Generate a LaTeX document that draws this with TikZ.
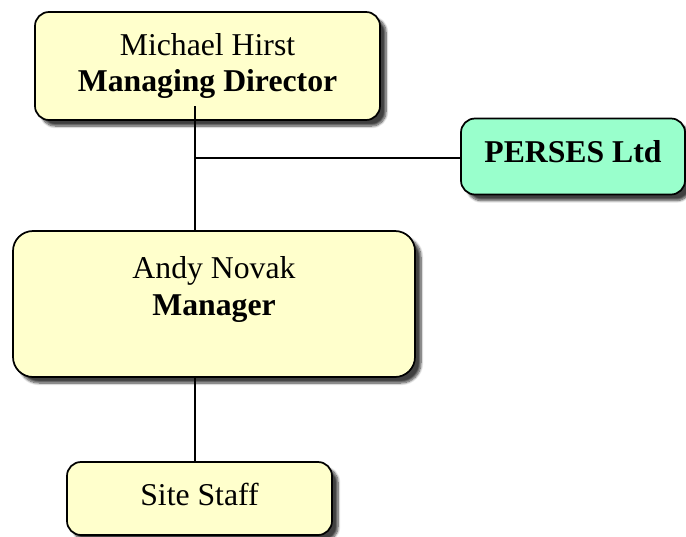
\documentclass[tikz,border=0pt]{standalone}
\usepackage{fontspec}
\setmainfont{Liberation Serif}
\usetikzlibrary{shadows.blur}
\definecolor{boxyellow}{RGB}{255,255,204}
\definecolor{boxgreen}{RGB}{153,255,204}
\tikzset{
	orgbox/.style={draw, line width=1.3pt, rounded corners=10.5pt, fill=boxyellow, align=center,
		inner sep=0pt, font=\fontsize{23.8}{27.5}\selectfont,
		blur shadow={shadow xshift=4.5pt, shadow yshift=-4.5pt, shadow opacity=75, shadow blur steps=8}},
	link/.style={line width=1.1pt}
}
\begin{document}
\begin{tikzpicture}[x=0.75pt, y=-0.75pt]
	\useasboundingbox (0,0) rectangle (686,536);
	\node[orgbox, minimum width=258.75pt, minimum height=81pt] (mh) at (207.5,66) {Michael Hirst\\\textbf{Managing Director}};
	\node[orgbox, fill=boxgreen, text depth=7.5pt, minimum width=168pt, minimum height=57pt] (ps) at (573,156.5) {\textbf{PERSES Ltd}};
	\node[orgbox, rounded corners=15pt, minimum width=301.5pt, minimum height=109.5pt] (an) at (214,304) {Andy Novak\\\textbf{Manager}\\\mbox{}};
	\node[orgbox, text depth=6pt, minimum width=198.75pt, minimum height=54.75pt] (ss) at (199.5,498.5) {Site Staff};
	\coordinate (top) at (195,106);
	\coordinate (jn) at (195,158);
	\draw[link] (top) -- (jn) -- (an.north -| jn);
	\draw[link] (jn) -- (jn -| ps.west);
	\draw[link] (an.south -| jn) -- (ss.north -| jn);
\end{tikzpicture}
\end{document}
